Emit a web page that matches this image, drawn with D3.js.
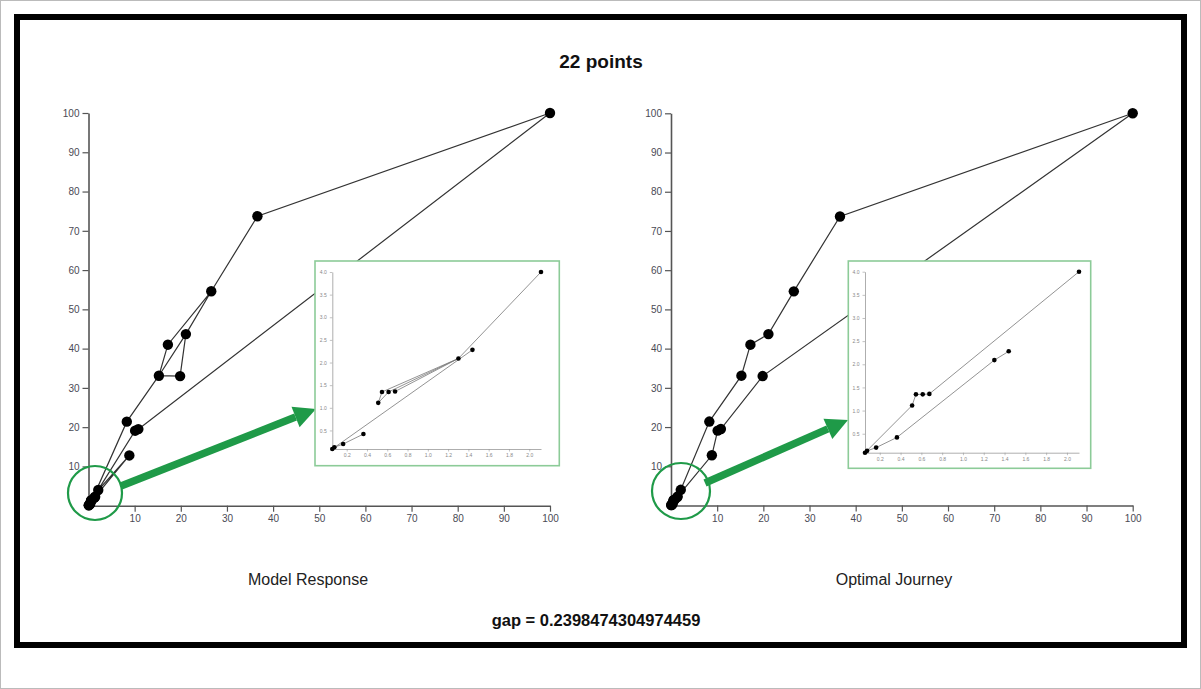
<!DOCTYPE html>
<html>
<head>
<meta charset="utf-8">
<script src="https://cdn.jsdelivr.net/npm/d3@7/dist/d3.min.js"></script>
<style>
  html, body { margin: 0; padding: 0; background: #fff; }
  svg { display: block; font-family: "Liberation Sans", Arial, sans-serif; }
</style>
</head>
<body>
<svg id="chart" width="1201" height="689"></svg>
<script>
// ---------- data ----------
const titleText = "22 points";
const gapText = "gap = 0.2398474304974459";
const panelTitles = ["Model Response", "Optimal Journey"];

// 22 points (percent x, percent y)
const pointNames = ["a","b","c","d","e","f","g","h","i","j","k",
                    "m1","m2","m3","m4","m5","m6","m7","m8","m9","m10","m11"];
const pointX = [0.058, 0.078, 0.165, 0.365, 0.511, 0.548, 0.613, 0.677, 1.302, 1.44, 2.116,
                8.3, 8.85, 10.1, 10.8, 15.25, 19.85, 17.2, 21.1, 26.6, 36.6, 100];
const pointY = [0.09, 0.13, 0.2, 0.42, 1.11, 1.35, 1.35, 1.36, 2.09, 2.28, 4.0,
                21.4, 12.8, 19.1, 19.5, 33.1, 33.0, 41.0, 43.7, 54.6, 73.7, 100];

// visiting orders (point names)
const modelOrder = ["h","i","f","e","g","i","k","m2","j","a","b","c","d","m1","m5","m8","m9",
                    "m7","m5","m6","m8","m9","m10","m11","m4","m3","h"];
const optimalOrder = ["a","e","f","g","h","k","m1","m5","m7","m8","m9","m10","m11",
                      "m6","m4","m3","m2","j","i","d","c","b","a"];

const mainTicks = [10,20,30,40,50,60,70,80,90,100];
const insetXTicks = [0.2,0.4,0.6,0.8,1.0,1.2,1.4,1.6,1.8,2.0];
const insetYTicks = [0.5,1.0,1.5,2.0,2.5,3.0,3.5,4.0];
const insetNames = ["a","b","c","d","e","f","g","h","i","j","k"];

// ---------- helpers ----------
const pts = {};
pointNames.forEach((n, idx) => pts[n] = {x: pointX[idx], y: pointY[idx]});

const svg = d3.select("#chart");
const GREEN = "#1f9a48";

// outer frame
svg.append("rect").attr("x", 0.5).attr("y", 0.5).attr("width", 1200).attr("height", 688)
  .attr("fill", "#fff").attr("stroke", "#bbb").attr("stroke-width", 1);
svg.append("rect").attr("x", 17).attr("y", 17).attr("width", 1167).attr("height", 628)
  .attr("fill", "none").attr("stroke", "#000").attr("stroke-width", 6);

svg.append("text").attr("x", 601).attr("y", 68).attr("text-anchor", "middle")
  .attr("font-size", 19).attr("font-weight", "bold").attr("fill", "#111").text(titleText);
svg.append("text").attr("x", 596).attr("y", 626).attr("text-anchor", "middle")
  .attr("font-size", 16.5).attr("font-weight", "bold").attr("fill", "#111").text(gapText);

const panels = [
  {order: modelOrder, x0: 88.5, x1: 550, y0: 505.7, y1: 113, title: panelTitles[0], tx: 308,
   inset: {bx: 315, by: 261, bw: 244.3, bh: 204.7, ax0: 332.3, ax1: 541, ay0: 449, ay1: 272},
   circle: {cx: 95, cy: 493, rx: 27, ry: 27},
   arrow: {x0: 121, y0: 486, x1: 316, y1: 409}},
  {order: optimalOrder, x0: 671, x1: 1132.7, y0: 505.5, y1: 113.3, title: panelTitles[1], tx: 894,
   inset: {bx: 848.3, by: 261, bw: 242.4, bh: 207.3, ax0: 865, ax1: 1079, ay0: 452.7, ay1: 271.7},
   circle: {cx: 681, cy: 491, rx: 29, ry: 28},
   arrow: {x0: 705, y0: 483, x1: 848, y1: 420}}
];

panels.forEach(p => {
  const g = svg.append("g");
  const x = d3.scaleLinear().domain([0, 100]).range([p.x0, p.x1]);
  const y = d3.scaleLinear().domain([0, 100]).range([p.y0, p.y1]);

  const ax = g.append("g").attr("transform", `translate(0,${p.y0})`)
    .call(d3.axisBottom(x).tickValues(mainTicks).tickSize(6).tickSizeOuter(0));
  const ay = g.append("g").attr("transform", `translate(${p.x0},0)`)
    .call(d3.axisLeft(y).tickValues(mainTicks).tickSize(6).tickSizeOuter(0));
  [ax, ay].forEach(a => {
    a.selectAll("path.domain").attr("stroke", "#555").attr("stroke-width", 1.6);
    a.selectAll(".tick line").attr("stroke", "#555").attr("stroke-width", 1.2);
    a.selectAll(".tick text").attr("font-size", 10).attr("fill", "#4a4a55")
      .attr("font-family", "Liberation Sans, Arial, sans-serif");
  });

  const line = d3.line().x(n => x(pts[n].x)).y(n => y(pts[n].y));
  g.append("path").attr("d", line(p.order)).attr("fill", "none")
    .attr("stroke", "#333").attr("stroke-width", 1.2);
  g.selectAll("circle.pt").data(pointNames).enter().append("circle")
    .attr("cx", n => x(pts[n].x)).attr("cy", n => y(pts[n].y)).attr("r", 5.2).attr("fill", "#000");

  // annotation circle + arrow
  g.append("ellipse").attr("cx", p.circle.cx).attr("cy", p.circle.cy)
    .attr("rx", p.circle.rx).attr("ry", p.circle.ry)
    .attr("fill", "none").attr("stroke", GREEN).attr("stroke-width", 2.2);
  const A = p.arrow;
  const ang = Math.atan2(A.y1 - A.y0, A.x1 - A.x0);
  const headL = 22, headW = 11;
  const bx = A.x1 - headL * Math.cos(ang), by = A.y1 - headL * Math.sin(ang);
  g.append("line").attr("x1", A.x0).attr("y1", A.y0).attr("x2", bx).attr("y2", by)
    .attr("stroke", GREEN).attr("stroke-width", 7.5);
  const nx = -Math.sin(ang), ny = Math.cos(ang);
  g.append("path").attr("d",
    `M${A.x1},${A.y1}L${bx + nx*headW},${by + ny*headW}L${bx - nx*headW},${by - ny*headW}Z`)
    .attr("fill", GREEN);

  // inset
  const I = p.inset;
  g.append("rect").attr("x", I.bx).attr("y", I.by).attr("width", I.bw).attr("height", I.bh)
    .attr("fill", "#fff").attr("stroke", "#8ccb98").attr("stroke-width", 1.6);
  const ix = d3.scaleLinear().domain(d3.extent(insetNames, n => pts[n].x)).range([I.ax0, I.ax1]);
  const iy = d3.scaleLinear().domain(d3.extent(insetNames, n => pts[n].y)).range([I.ay0, I.ay1]);
  const iax = g.append("g").attr("transform", `translate(0,${I.ay0})`)
    .call(d3.axisBottom(ix).tickValues(insetXTicks).tickFormat(d3.format(".1f")).tickSize(2.5).tickSizeOuter(0));
  const iay = g.append("g").attr("transform", `translate(${I.ax0},0)`)
    .call(d3.axisLeft(iy).tickValues(insetYTicks).tickFormat(d3.format(".1f")).tickSize(2.5).tickSizeOuter(0));
  [iax, iay].forEach(a => {
    a.selectAll("path.domain").attr("stroke", "#999").attr("stroke-width", 0.8);
    a.selectAll(".tick line").attr("stroke", "#999").attr("stroke-width", 0.6);
    a.selectAll(".tick text").attr("font-size", 5).attr("fill", "#888")
      .attr("font-family", "Liberation Sans, Arial, sans-serif");
  });
  iax.selectAll(".tick text").attr("dy", "0.5em");
  const inSet = new Set(insetNames);
  const segs = [];
  for (let s = 0; s < p.order.length - 1; s++) {
    const u = p.order[s], v = p.order[s+1];
    if (inSet.has(u) && inSet.has(v)) segs.push([u, v]);
  }
  g.selectAll("line.iseg").data(segs).enter().append("line")
    .attr("x1", d => ix(pts[d[0]].x)).attr("y1", d => iy(pts[d[0]].y))
    .attr("x2", d => ix(pts[d[1]].x)).attr("y2", d => iy(pts[d[1]].y))
    .attr("stroke", "#777").attr("stroke-width", 0.8);
  g.selectAll("circle.ipt").data(insetNames).enter().append("circle")
    .attr("cx", n => ix(pts[n].x)).attr("cy", n => iy(pts[n].y)).attr("r", 2.3).attr("fill", "#000");

  g.append("text").attr("x", p.tx).attr("y", 585).attr("text-anchor", "middle")
    .attr("font-size", 16).attr("fill", "#222").text(p.title);
});
</script>
</body>
</html>
